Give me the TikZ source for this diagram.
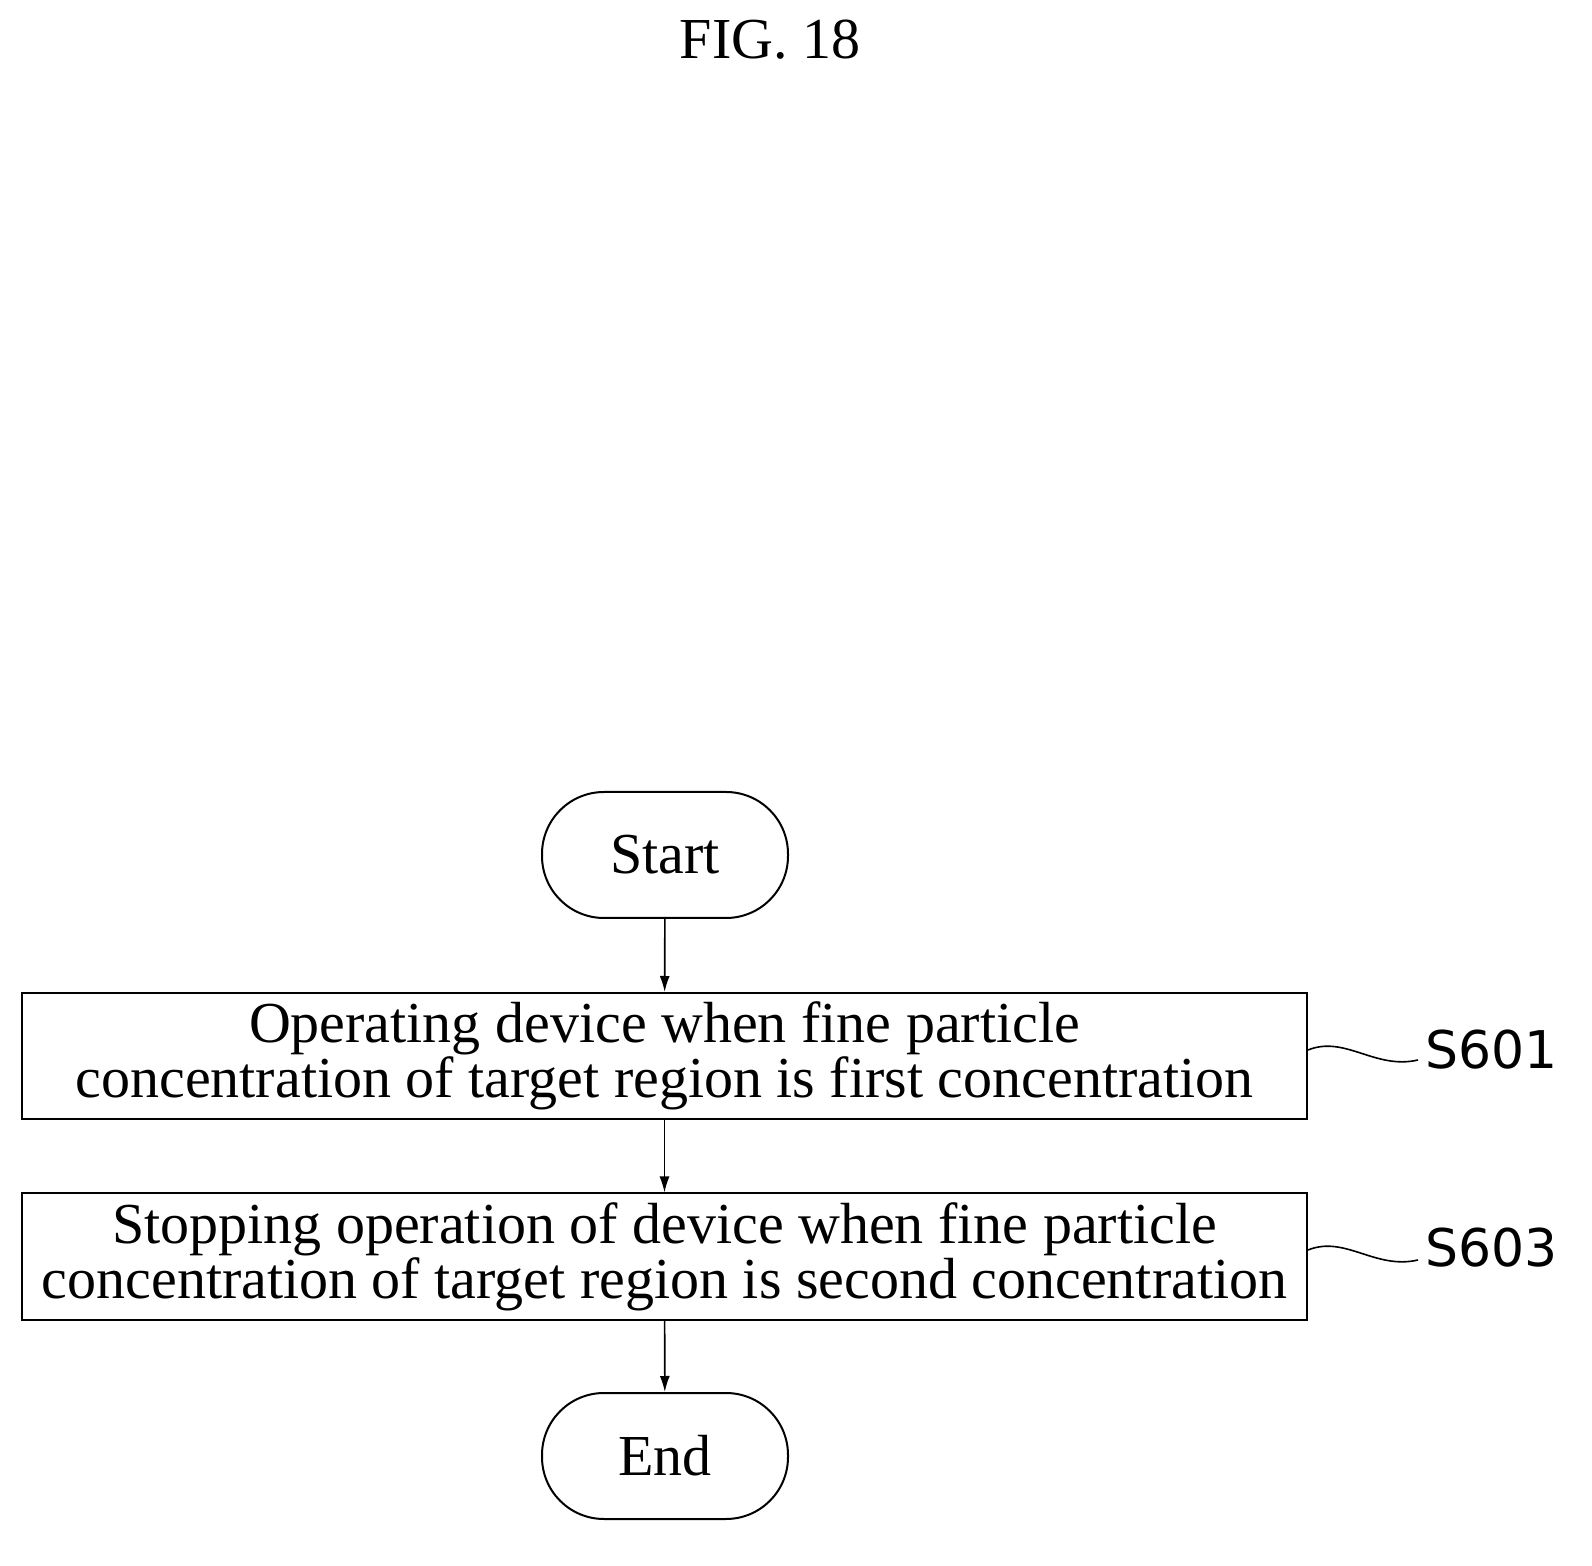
\documentclass[tikz,border=0pt]{standalone}
\usepackage{fontspec}
\usetikzlibrary{arrows.meta}
\setmainfont{Liberation Serif}
\newfontfamily\labfont{DejaVu Sans}
\begin{document}
\begin{tikzpicture}[x=0.5pt,y=-0.5pt,
  term/.style={draw,line width=1pt,rounded corners=31pt,minimum width=123pt,minimum height=63pt,font=\fontsize{29}{32}\selectfont},
  stepbox/.style={draw,line width=1pt,minimum width=642.5pt,minimum height=63pt,align=center,font=\fontsize{29}{27.5}\selectfont,inner sep=0pt},
  arr/.style={-{Latex[length=8pt,width=5pt]},line width=0.8pt},
  lab/.style={font=\labfont\fontsize{26}{30}\selectfont},
  wave/.style={line width=0.8pt}]
\useasboundingbox (0,0) rectangle (1592,1566);
\node (title) at (770,40) {\fontsize{29}{32}\selectfont FIG. 18};
\node[term] (start) at (665,855) {Start};
\node[stepbox] (s1) at (664.5,1056) {Operating device when fine particle\\concentration of target region is first concentration};
\node[stepbox] (s2) at (664.5,1256.5) {Stopping operation of device when fine particle\\concentration of target region is second concentration};
\node[term] (end) at (665,1456) {End};
\draw[arr] (start) -- (s1);
\draw[arr] (s1) -- (s2);
\draw[arr] (s2) -- (end);
\node[lab,anchor=west] (l1) at (1418,1050) {S601};
\node[lab,anchor=west] (l2) at (1418,1248) {S603};
\draw[wave] (s1.east|-0,1050) .. controls (1345,1035) and (1375,1070) .. (l1.west|-0,1060);
\draw[wave] (s2.east|-0,1250) .. controls (1345,1235) and (1375,1270) .. (l2.west|-0,1260);
\end{tikzpicture}
\end{document}
